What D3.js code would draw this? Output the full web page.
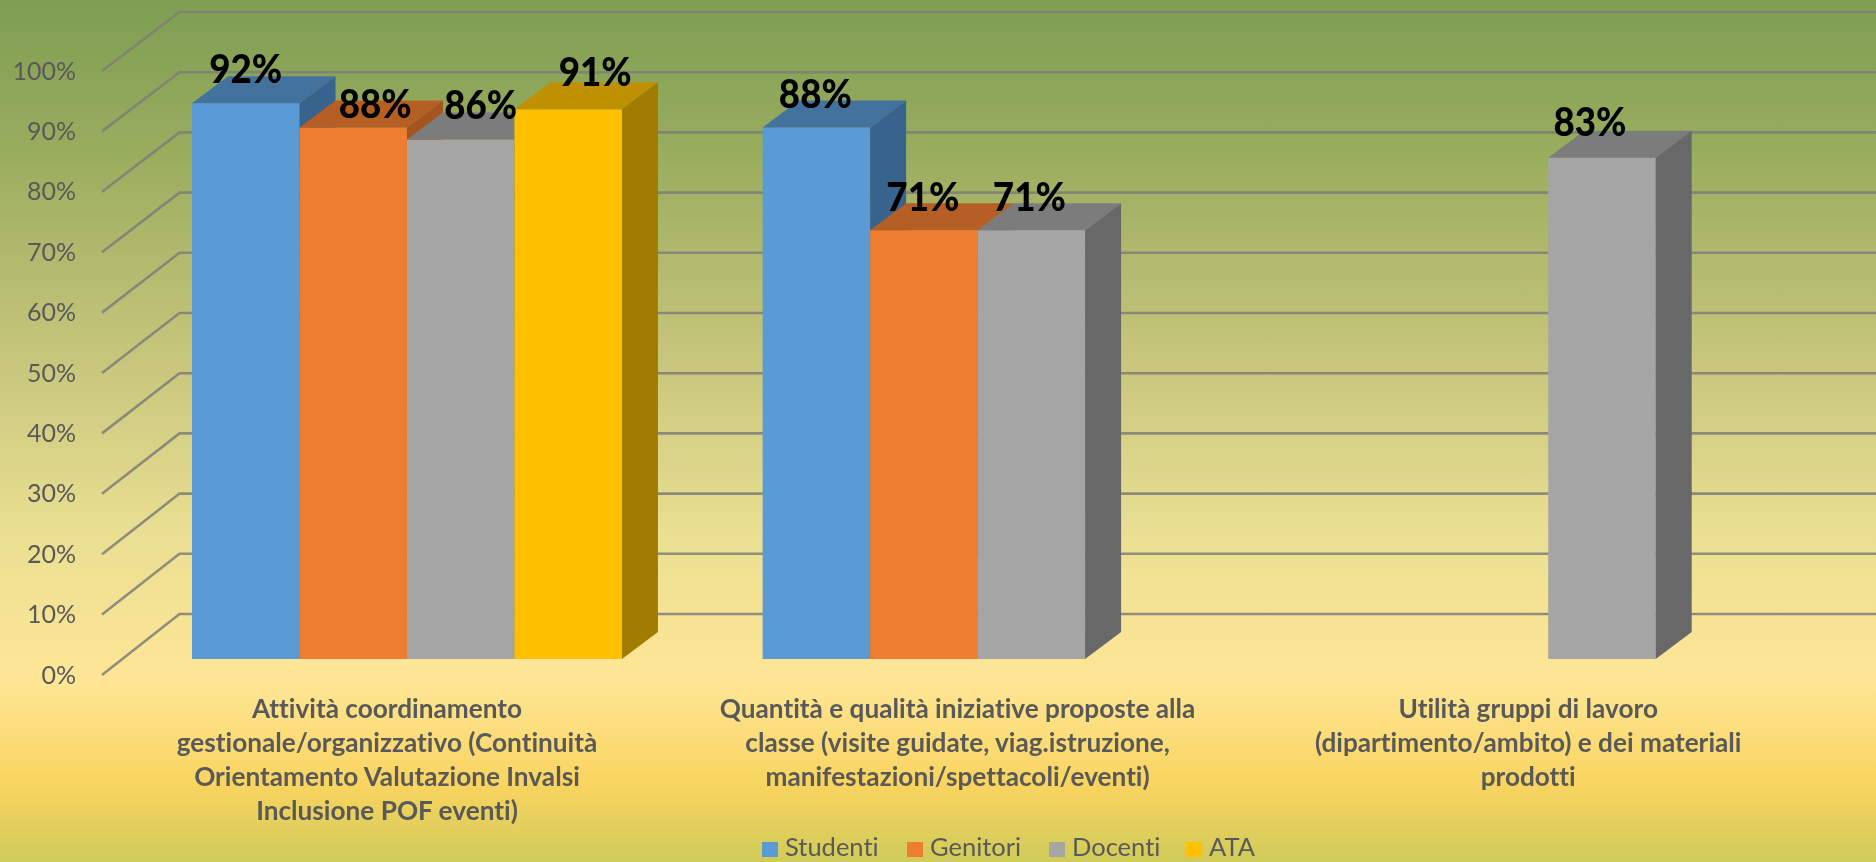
<!DOCTYPE html>
<html><head><meta charset="utf-8">
<script src="https://cdn.jsdelivr.net/npm/d3@7"></script>
<style>html,body{margin:0;padding:0;overflow:hidden;background:#fff}svg{display:block;filter:blur(0.5px)}text{font-family:Lato,"Open Sans",sans-serif;font-variant-ligatures:none}</style>
</head><body><div id="chart"></div>
<script>
const categories = [
  ["Attività coordinamento","gestionale/organizzativo (Continuità","Orientamento Valutazione Invalsi","Inclusione POF eventi)"],
  ["Quantità e qualità iniziative proposte alla","classe (visite guidate, viag.istruzione,","manifestazioni/spettacoli/eventi)"],
  ["Utilità gruppi di lavoro","(dipartimento/ambito) e dei materiali","prodotti"]
];
const seriesNames = ["Studenti","Genitori","Docenti","ATA"];
const studenti = [0.92,0.88,null];
const genitori = [0.88,0.71,null];
const docenti  = [0.86,0.71,0.83];
const ata      = [0.91,null,null];
const yTicks   = [0,0.1,0.2,0.3,0.4,0.5,0.6,0.7,0.8,0.9,1];

const seriesValues = [studenti,genitori,docenti,ata];
const W=1876,H=862;
const faceColors=["#5b9bd5","#ed7d31","#a5a5a5","#ffc000"];
const topColors =["#44729f","#b65f25","#7c7c7c","#bf9000"];
const sideColors=["#38638c","#a3541f","#686868","#a07c00"];
const depthX=36, depthY=27;
// hand-placed data labels in the original: [dx, dy] from the bar's top centre
const labelShift={ "0-0":[0,-20],"1-0":[22,-9],"2-0":[20,-21],"3-0":[27,-23],
                   "0-1":[-1,-19],"1-1":[-1,-19],"2-1":[-2,-19],"2-2":[-12,-22] };

const svg=d3.select("#chart").append("svg").attr("width",W).attr("height",H);
const grad=svg.append("defs").append("linearGradient").attr("id","bg").attr("x1",0).attr("x2",0).attr("y1",0).attr("y2",1);
[[0,"#7e9e52"],[0.17,"#98ac5e"],[0.4,"#c4c47a"],[0.62,"#eadf92"],[0.79,"#ffe696"],[0.91,"#f9d45f"],[1,"#d0cb5a"]]
 .forEach(s=>grad.append("stop").attr("offset",s[0]).attr("stop-color",s[1]));
svg.append("rect").attr("width",W).attr("height",H).attr("fill","url(#bg)");

const xCat=d3.scaleBand().domain(d3.range(categories.length)).range([121.7,1833.5]).paddingInner(0.2465).paddingOuter(0.1232);
const xSer=d3.scaleBand().domain(d3.range(seriesNames.length)).range([0,xCat.bandwidth()]);
const y=d3.scaleLinear().domain([0,1]).range([659,55]);
const yFront=d3.scaleLinear().domain([0,1]).range([675,71]);
const yBack=d3.scaleLinear().domain([0,1]).range([614,12]);
const wallX=179.5, floorX=102;

// gridlines: along the floor/side wall and along the back wall
const grid=svg.append("g").attr("fill","none").attr("stroke","#7f7f78").attr("stroke-width",2.6).attr("opacity",0.85);
grid.selectAll("path").data(yTicks).join("path")
  .attr("d",t=>d3.line()([[floorX,yFront(t)],[wallX,yBack(t)],[W,yBack(t)]]));

// y axis labels
const axis=svg.append("g").attr("transform","translate(76,0)")
  .call(d3.axisLeft(yFront).tickValues(yTicks).tickSize(0).tickPadding(0).tickFormat(d3.format(".0%")));
axis.select(".domain").remove();
axis.selectAll("text").attr("fill","#595959").style("font-size","25px").style("font-family","Lato");

// bars
const bars=[];
seriesValues.forEach((vals,s)=>vals.forEach((v,c)=>{if(v!=null)bars.push({s,c,v});}));
const poly=p=>p.map(a=>a.join(",")).join(" ");
const g=svg.append("g");
bars.forEach(b=>{
  const x0=xCat(b.c)+xSer(b.s), x1=x0+xSer.bandwidth(), yt=y(b.v), yb=y(0);
  g.append("rect").attr("x",x0).attr("y",yt).attr("width",x1-x0).attr("height",yb-yt).attr("fill",faceColors[b.s]);
  g.append("polygon").attr("points",poly([[x0,yt],[x0+depthX,yt-depthY],[x1+depthX,yt-depthY],[x1,yt]])).attr("fill",topColors[b.s]);
  g.append("polygon").attr("points",poly([[x1,yt],[x1+depthX,yt-depthY],[x1+depthX,yb-depthY],[x1,yb]])).attr("fill",sideColors[b.s]);
});
// data labels
const lab=svg.append("g");
bars.forEach(b=>{
  const sh=labelShift[b.s+"-"+b.c];
  lab.append("text").attr("x",xCat(b.c)+xSer(b.s)+xSer.bandwidth()/2+sh[0]).attr("y",y(b.v)+sh[1])
    .attr("text-anchor","middle").attr("font-size",40).attr("font-weight",900).attr("fill","#000")
    .attr("textLength",73).attr("lengthAdjust","spacingAndGlyphs")
    .text(d3.format(".0%")(b.v));
});
// category labels
categories.forEach((lines,c)=>{
  const cx=xCat(c)+xCat.bandwidth()/2-20;
  lines.forEach((l,i)=>svg.append("text").attr("x",cx).attr("y",718+i*34)
    .attr("text-anchor","middle").attr("font-size",26.2).attr("font-weight",700).attr("fill","#595959").text(l));
});
// legend
const legX=[762,907,1049,1186];
seriesNames.forEach((n,i)=>{
  svg.append("rect").attr("x",legX[i]).attr("y",842).attr("width",16).attr("height",15).attr("fill",faceColors[i]);
  svg.append("text").attr("x",legX[i]+23).attr("y",856).attr("font-size",25.5).attr("fill","#595959").text(n);
});
</script></body></html>
